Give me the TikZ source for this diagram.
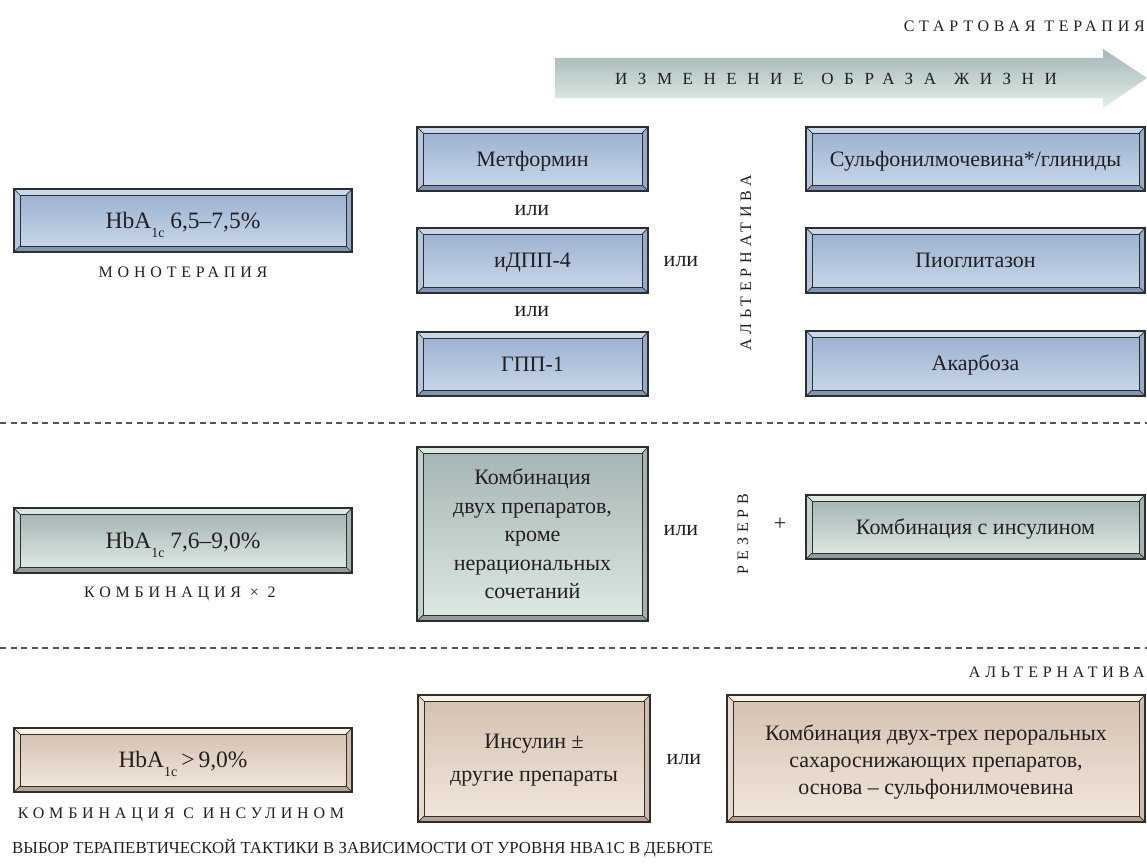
\documentclass[tikz,border=0pt]{standalone}
\usepackage{fontspec}
\setmainfont{Liberation Serif}
\newfontfamily\spfont[LetterSpace=30]{Liberation Serif}
\newfontfamily\wspfont[LetterSpace=62]{Liberation Serif}
\definecolor{txt}{HTML}{231F20}
\definecolor{edge}{HTML}{2E2E2E}
\definecolor{dashc}{HTML}{555555}
% blue
\definecolor{blT}{HTML}{9DB2D1}
\definecolor{blB}{HTML}{C6D6E8}
\definecolor{blBT}{HTML}{C8D8EA}
\definecolor{blBL}{HTML}{B5C7DE}
\definecolor{blBR}{HTML}{96AACA}
\definecolor{blBB}{HTML}{8196B5}
% green
\definecolor{grT}{HTML}{A6B6B6}
\definecolor{grB}{HTML}{DCE8E0}
\definecolor{grBT}{HTML}{DCE8E0}
\definecolor{grBL}{HTML}{C4D2CE}
\definecolor{grBR}{HTML}{A4B4B2}
\definecolor{grBB}{HTML}{8E9E9E}
% beige
\definecolor{beT}{HTML}{D6C2B2}
\definecolor{beB}{HTML}{F0E6DA}
\definecolor{beBT}{HTML}{FAF2E2}
\definecolor{beBL}{HTML}{E8DACA}
\definecolor{beBR}{HTML}{D0BCAA}
\definecolor{beBB}{HTML}{B8A292}
% arrow
\definecolor{arT}{HTML}{A3B7B7}
\definecolor{arB}{HTML}{E3EFE8}

\newcommand{\bxf}{\fontsize{22}{28.5}\selectfont}
\newcommand{\hbf}{\fontsize{23.5}{28}\selectfont}
\newcommand{\spl}{\spfont\fontsize{16}{18}\selectfont}
\newcommand{\hba}{HbA\raisebox{-0.38em}{\fontsize{14}{14}\selectfont 1c}}

% #1 name, #2 x1, #3 y1, #4 x2, #5 y2, #6 scheme, #7 node options, #8 text
\newcommand{\bevbox}[8]{%
  \shade[top color=#6T, bottom color=#6B] (#2+6,#3+6) rectangle (#4-6,#5-6);
  \fill[#6BT] (#2,#3) -- (#4,#3) -- (#4-6,#3+6) -- (#2+6,#3+6) -- cycle;
  \fill[#6BB] (#2,#5) -- (#4,#5) -- (#4-6,#5-6) -- (#2+6,#5-6) -- cycle;
  \fill[#6BL] (#2,#3) -- (#2+6,#3+6) -- (#2+6,#5-6) -- (#2,#5) -- cycle;
  \fill[#6BR] (#4,#3) -- (#4-6,#3+6) -- (#4-6,#5-6) -- (#4,#5) -- cycle;
  \draw[boxline, line width=1.3pt] (#2,#3) rectangle (#4,#5);
  \draw[boxline, line width=0.9pt] (#2+6,#3+6) rectangle (#4-6,#5-6);
  \draw[boxline, line width=0.7pt] (#2,#3) -- (#2+6,#3+6) (#4,#3) -- (#4-6,#3+6)
     (#2,#5) -- (#2+6,#5-6) (#4,#5) -- (#4-6,#5-6);
  \node[boxtext, #7] (#1) at ({(#2+#4)/2},{(#3+#5)/2}) {#8};
}

\tikzset{
  boxline/.style={draw=edge},
  boxtext/.style={text=txt, align=center, inner sep=0pt, font=\bxf},
  oneline/.style={text height=14.5pt, text depth=0pt},
  hbline/.style={font=\hbf, text height=15.5pt, text depth=0pt},
  lbl/.style={text=txt, inner sep=0pt, font=\bxf},
  splbl/.style={text=txt, inner sep=0pt, font=\spl},
  sep/.style={draw=dashc, line width=1.2pt, dash pattern=on 6pt off 4.5pt},
}

\begin{document}
\begin{tikzpicture}[x=1pt, y=-1pt]
\useasboundingbox (0,0) rectangle (1147,867);

% top arrow
\shade[top color=arT, bottom color=arB] (555,58) -- (1103,58) -- (1103,49) -- (1147,78) -- (1103,108) -- (1103,98) -- (555,98) -- cycle;
\node[splbl, font=\wspfont\fontsize{17}{18}\selectfont] (life) at (836,79)
  {ИЗМЕНЕНИЕ\hspace{18pt}ОБРАЗА\hspace{18pt}ЖИЗНИ};
\node[splbl, anchor=east] (start) at (1145,26) {СТАРТОВАЯ ТЕРАПИЯ};

% row 1
\bevbox{hb1}{14}{189}{352}{252}{bl}{hbline}{\hba\ 6,5–7,5\%}
\node[splbl] (mono) at (183,272) {МОНОТЕРАПИЯ};
\bevbox{met}{417}{127}{648}{191}{bl}{oneline}{Метформин}
\bevbox{dpp}{417}{228}{648}{293}{bl}{oneline}{иДПП-4}
\bevbox{glp}{417}{332}{648}{396}{bl}{oneline}{ГПП-1}
\node[lbl] (or1) at (532,211) {или};
\node[lbl] (or2) at (532,312) {или};
\node[lbl] (or3) at (681,262) {или};
\node[splbl, rotate=90] (alt1) at (746,263) {АЛЬТЕРНАТИВА};
\bevbox{su}{806}{127}{1145}{191}{bl}{oneline}{Сульфонилмочевина*/глиниды}
\bevbox{pio}{806}{228}{1145}{293}{bl}{oneline}{Пиоглитазон}
\bevbox{aca}{806}{331}{1145}{396}{bl}{oneline}{Акарбоза}

\draw[sep] (0,423) -- (1147,423);

% row 2
\bevbox{hb2}{14}{508}{352}{573}{gr}{hbline}{\hba\ 7,6–9,0\%}
\node[splbl] (comb) at (180,594) {КОМБИНАЦИЯ × 2};
\bevbox{two}{417}{447}{648}{621}{gr}{}{Комбинация\\двух препаратов,\\кроме\\нерациональных\\сочетаний}
\node[lbl] (or4) at (681,531) {или};
\node[splbl, rotate=90] (res) at (743,534) {РЕЗЕРВ};
\node[lbl] (plus) at (780,524) {+};
\bevbox{cins}{806}{495}{1145}{559}{gr}{oneline}{Комбинация с инсулином}

\draw[sep] (0,648) -- (1147,648);

% row 3
\node[splbl, anchor=east] (alt2) at (1145,672) {АЛЬТЕРНАТИВА};
\bevbox{hb3}{14}{728}{352}{792}{be}{hbline}{\hba\,>\,9,0\%}
\node[splbl] (combi) at (181,815) {КОМБИНАЦИЯ С ИНСУЛИНОМ};
\bevbox{ins}{418}{695}{650}{822}{be}{font=\fontsize{22}{33}\selectfont, yshift=-2pt}{Инсулин ±\\другие препараты}
\node[lbl] (or5) at (684,760) {или};
\bevbox{oral}{727}{695}{1145}{822}{be}{font=\fontsize{22}{27}\selectfont, yshift=-3pt}{Комбинация двух-трех пероральных\\сахароснижающих препаратов,\\основа – сульфонилмочевина}

% caption
\node[text=txt, inner sep=0pt, anchor=west, font=\fontsize{16.8}{18}\selectfont] (cap) at (12,848)
  {ВЫБОР ТЕРАПЕВТИЧЕСКОЙ ТАКТИКИ В ЗАВИСИМОСТИ ОТ УРОВНЯ HBA1C В ДЕБЮТЕ};
\end{tikzpicture}
\end{document}
